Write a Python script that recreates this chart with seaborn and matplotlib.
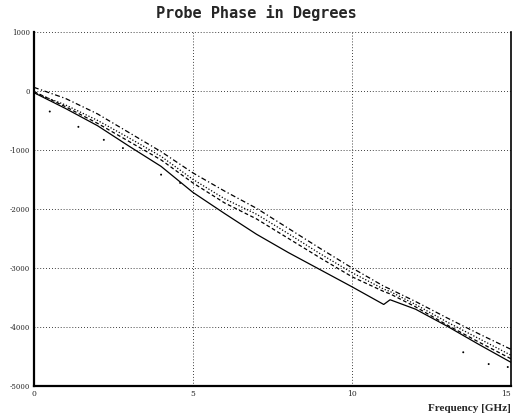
import seaborn as sns
import matplotlib.pyplot as plt
import pandas as pd

# frequency points in GHz
freq = [0, 1, 2, 3, 4, 5, 6, 7, 8, 9, 10, 11, 11.2, 12, 13, 14, 15]

# phase (degrees) for the four probes
phase_upper = [60, -130, -390, -710, -1030, -1390, -1700, -1990, -2330, -2670,
               -3000, -3310, -3360, -3570, -3850, -4120, -4380]
phase_mid1 = [-30, -240, -500, -800, -1110, -1500, -1830, -2090, -2420, -2760,
              -3080, -3360, -3400, -3620, -3920, -4200, -4480]
phase_mid2 = [-10, -270, -550, -860, -1170, -1560, -1900, -2170, -2500, -2830,
              -3150, -3400, -3440, -3660, -3970, -4260, -4540]
phase_lower = [-30, -300, -590, -940, -1280, -1720, -2080, -2430, -2740, -3030,
               -3320, -3620, -3540, -3700, -3990, -4300, -4600]

# stray noise points
noise_f = [0.5, 1.4, 2.2, 2.8, 4.0, 4.6, 13.5, 14.3, 14.9]
noise_p = [-350, -610, -830, -970, -1420, -1560, -4430, -4630, -4680]

x_ticks = [0, 5, 10, 15]
y_ticks = [1000, 0, -1000, -2000, -3000, -4000, -5000]

sns.set_style("white")

fig = plt.figure(figsize=(5.13, 4.19), dpi=100)
ax = fig.add_axes([0.066, 0.079, 0.93, 0.845])

styles = [
    (phase_upper, (0, (4, 2, 1, 2))),
    (phase_mid1, (0, (1, 1.5))),
    (phase_mid2, (0, (3, 2))),
    (phase_lower, "-"),
]
for vals, ls in styles:
    df = pd.DataFrame({"freq": freq, "phase": vals})
    sns.lineplot(data=df, x="freq", y="phase", ax=ax, color="black",
                 linewidth=0.9, linestyle=ls)

sns.scatterplot(x=noise_f, y=noise_p, ax=ax, color="black", s=2,
                edgecolor="none")

ax.set_xlim(0, 15)
ax.set_ylim(-5000, 1000)
ax.set_xticks(x_ticks)
ax.set_yticks(y_ticks)
ax.set_xticklabels([str(t) for t in x_ticks], fontsize=5.5, family="serif")
ax.set_yticklabels([str(t) for t in y_ticks], fontsize=5, family="serif")
ax.get_xticklabels()[-1].set_horizontalalignment("right")
ax.tick_params(axis="both", length=0, pad=3)

ax.grid(True, color="black", linestyle=(0, (1, 2.5)), linewidth=0.6)

ax.spines["top"].set_visible(False)
for side in ["left", "bottom"]:
    ax.spines[side].set_linewidth(1.6)
    ax.spines[side].set_color("black")
ax.spines["right"].set_linewidth(1.2)
ax.spines["right"].set_color("black")

ax.set_xlabel("")
ax.set_ylabel("")
fig.text(0.5, 0.968, "Probe Phase in Degrees", ha="center", va="center",
         fontsize=11, fontweight="bold", family="DejaVu Sans Mono")
fig.text(0.995, 0.025, "Frequency [GHz]", ha="right", va="center",
         fontsize=8, fontweight="bold", family="Liberation Serif")

fig.savefig("out.png", dpi=100)
